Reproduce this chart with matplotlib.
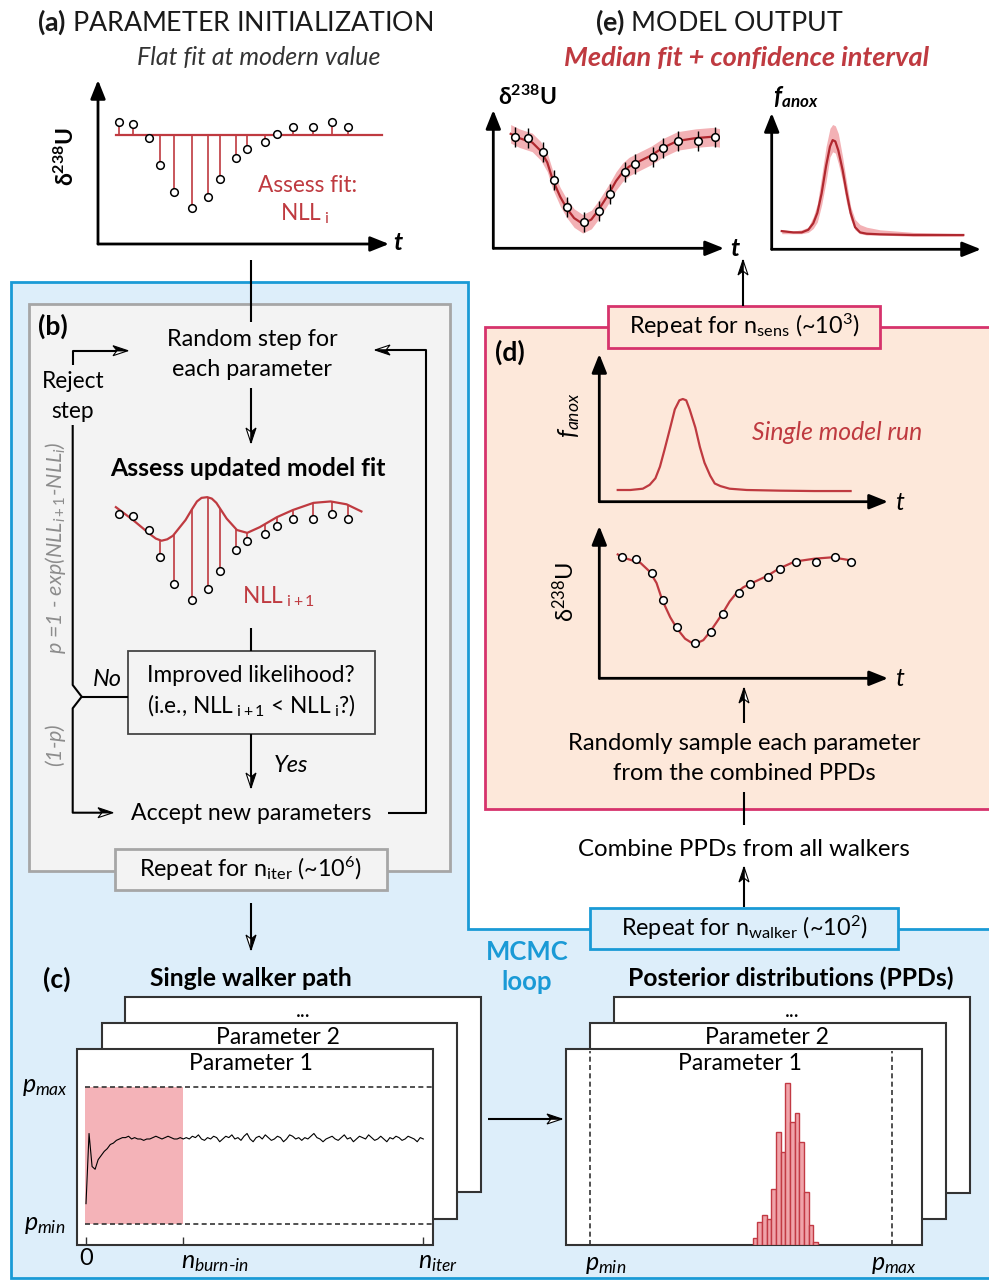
import numpy as np
import matplotlib.pyplot as plt
from matplotlib.patches import Rectangle, Polygon

plt.rcParams['font.family'] = ['Lato', 'DejaVu Sans']
plt.rcParams['mathtext.fontset'] = 'custom'
plt.rcParams['mathtext.rm'] = 'Lato'
plt.rcParams['mathtext.it'] = 'Lato:italic'
plt.rcParams['mathtext.bf'] = 'Lato:bold'
plt.rcParams['mathtext.bfit'] = 'Lato:italic:bold'

W, H = 989, 1281

# ---------------- data ----------------
# d238U observations (permil) against time
t_obs = [0, 0.6, 1.3, 1.8, 2.4, 3.2, 3.9, 4.4, 5.1, 5.6, 6.4, 6.9, 7.6, 8.5, 9.3, 10.0]
d238_obs = [-0.05, -0.06, -0.16, -0.35, -0.54, -0.65, -0.57, -0.45, -0.30, -0.24,
            -0.19, -0.13, -0.08, -0.08, -0.05, -0.08]
d238_err = [0.07, 0.07, 0.07, 0.07, 0.07, 0.07, 0.07, 0.07, 0.07, 0.07, 0.07, 0.07, 0.07, 0.07, 0.07]

# (a) flat initial fit at the modern value
flat_t = [-0.15, 11.5]
flat_d = [-0.14, -0.14]

# (b) trial model after a random step
trial_t = [-0.15, 0.6, 1.35, 1.6, 1.85, 2.1, 2.35, 2.9, 3.2, 3.4, 3.6, 3.85, 4.05, 4.25,
           4.7, 5.15, 5.6, 6.15, 6.9, 7.6, 8.5, 9.25, 9.95, 10.6]
trial_d = [0.0, -0.09, -0.19, -0.22, -0.235, -0.225, -0.20, -0.09, -0.01, 0.04, 0.065,
           0.07, 0.06, 0.03, -0.08, -0.16, -0.18, -0.14, -0.07, -0.02, 0.03, 0.04, 0.02, -0.03]

# (d)/(e) model d238U curve
model_t = [-0.2, 0.2, 0.8, 1.2, 1.5, 1.75, 2.1, 2.4, 2.75, 3.15, 3.55, 3.85, 4.15,
           4.4, 4.7, 5.0, 5.3, 5.55, 5.95, 6.35, 6.85, 7.55, 8.4, 9.2, 9.95]
model_d = [-0.03, -0.06, -0.09, -0.15, -0.23, -0.35, -0.47, -0.55, -0.62, -0.66,
           -0.63, -0.57, -0.50, -0.44, -0.36, -0.30, -0.26, -0.24, -0.21, -0.18,
           -0.13, -0.08, -0.06, -0.05, -0.07]
ci_half = 0.065

# (d) single model run of f_anox
run_t = [-0.2, 0.35, 0.9, 1.2, 1.45, 1.65, 1.85, 2.1, 2.3, 2.5, 2.65, 2.8, 2.95,
         3.2, 3.4, 3.6, 3.85, 4.05, 4.3, 4.7, 5.45, 6.9, 8.4, 10.0]
run_f = [0.09, 0.09, 0.10, 0.13, 0.18, 0.27, 0.40, 0.57, 0.71, 0.78, 0.79, 0.78,
         0.71, 0.57, 0.42, 0.30, 0.20, 0.14, 0.12, 0.10, 0.09, 0.085, 0.082, 0.082]

# (e) median f_anox and confidence interval
med_t = [-0.2, 0.45, 0.92, 1.29, 1.57, 1.8, 2.04, 2.29, 2.51, 2.66, 2.81, 2.98,
         3.22, 3.45, 3.67, 3.92, 4.2, 4.57, 5.32, 7.19, 10.0]
med_f = [0.14, 0.13, 0.13, 0.15, 0.20, 0.28, 0.43, 0.64, 0.79, 0.84, 0.83, 0.76,
         0.61, 0.43, 0.28, 0.17, 0.13, 0.12, 0.115, 0.11, 0.11]
med_hi = [0.15, 0.14, 0.15, 0.17, 0.25, 0.35, 0.56, 0.79, 0.93, 0.96, 0.95, 0.89,
          0.71, 0.51, 0.33, 0.23, 0.19, 0.17, 0.15, 0.13, 0.12]
med_lo = [0.12, 0.12, 0.12, 0.13, 0.16, 0.21, 0.34, 0.52, 0.71, 0.75, 0.74, 0.66,
          0.52, 0.35, 0.23, 0.15, 0.12, 0.11, 0.11, 0.10, 0.10]

# (c) single walker path, scaled between p_min (0) and p_max (1)
trace = [0.15, 0.66, 0.42, 0.40, 0.47, 0.50, 0.53, 0.55, 0.58, 0.59,
         0.61, 0.62, 0.63, 0.63, 0.64, 0.62, 0.63, 0.62, 0.62, 0.61,
         0.62, 0.62, 0.63, 0.64, 0.63, 0.62, 0.63, 0.64, 0.63, 0.62,
         0.62, 0.63, 0.62, 0.63, 0.62, 0.64, 0.63, 0.65, 0.62, 0.61,
         0.63, 0.62, 0.64, 0.63, 0.60, 0.62, 0.64, 0.63, 0.65, 0.62,
         0.63, 0.61, 0.64, 0.66, 0.62, 0.60, 0.63, 0.64, 0.62, 0.65,
         0.63, 0.61, 0.62, 0.64, 0.63, 0.60, 0.62, 0.65, 0.64, 0.62,
         0.63, 0.61, 0.63, 0.62, 0.64, 0.66, 0.63, 0.62, 0.60, 0.62,
         0.63, 0.64, 0.62, 0.61, 0.63, 0.65, 0.62, 0.63, 0.60, 0.62,
         0.64, 0.63, 0.62, 0.65, 0.63, 0.61, 0.62, 0.64, 0.62, 0.60,
         0.63, 0.62, 0.64, 0.63, 0.61, 0.62, 0.64, 0.63, 0.62, 0.60,
         0.63, 0.62]
n_burn = 32

# posterior histogram (parameter scaled 0..1)
hist_left = 0.539
hist_width = 0.0155
hist_counts = [2, 7, 9, 8, 17, 34, 28, 49, 37, 40, 31, 16, 6, 1]

RED = '#bf3a40'
DRED = '#b0282f'
BAND = '#f3b1b5'
BLUE = '#1a9ad6'
LBLUE = '#ddeefa'
PINK = '#d6336c'
SALMON = '#fde8da'
GREY = '#a6a6a6'
LGREY = '#f3f3f3'

REG = 16.3     # regular flow text
BOLD = 17.8    # bold headings
TITLE = 19.3

fig = plt.figure(figsize=(W / 100, H / 100), dpi=100)
ax = fig.add_axes([0, 0, 1, 1])
ax.set_xlim(0, W)
ax.set_ylim(H, 0)
ax.axis('off')


def inset(box, xref, yref):
    l, t, r, b = box
    x0v, x0p, x1v, x1p = xref
    y0v, y0p, y1v, y1p = yref
    sx = (x1v - x0v) / (x1p - x0p)
    sy = (y1v - y0v) / (y1p - y0p)
    a = fig.add_axes([l / W, 1 - b / H, (r - l) / W, (b - t) / H])
    a.set_xlim(x0v + (l - x0p) * sx, x0v + (r - x0p) * sx)
    a.set_ylim(y0v + (b - y0p) * sy, y0v + (t - y0p) * sy)
    a.axis('off')
    return a


def txt(x, y, s, size=REG, **kw):
    kw.setdefault('ha', 'center')
    kw.setdefault('va', 'center')
    ax.text(x, y, s, fontsize=size, **kw)


def head(x, y, dx, dy, L=15, w=5, notch=4):
    # half black / half white arrow head
    nx, ny = dy, -dx
    bx, by = x - L * dx, y - L * dy
    mx, my = x - (L - notch) * dx, y - (L - notch) * dy
    ax.add_patch(Polygon([(x, y), (mx, my), (bx - w * nx, by - w * ny)], closed=True,
                         fc='white', ec='black', lw=0.8, zorder=6))
    ax.add_patch(Polygon([(x, y), (bx + w * nx, by + w * ny), (mx, my)], closed=True,
                         fc='black', ec='black', lw=0.8, zorder=6))


def line(xs, ys, lw=1.5):
    ax.plot(xs, ys, color='black', lw=lw, zorder=5, solid_capstyle='butt')


def arrow(x0, y0, x1, y1):
    line([x0, x1], [y0, y1])
    d = np.hypot(x1 - x0, y1 - y0)
    head(x1, y1, (x1 - x0) / d, (y1 - y0) / d)


def axes_arrows(ox, oy, ytip, xtip):
    for tip in [(ox, ytip), (xtip, oy)]:
        ax.annotate('', xy=tip, xytext=(ox, oy),
                    arrowprops=dict(arrowstyle='-|>,head_length=0.75,head_width=0.3',
                                    lw=2, color='black', mutation_scale=15,
                                    shrinkA=0, shrinkB=0), zorder=5)


# ---------------- background boxes ----------------
ax.add_patch(Polygon([(11, 282), (468, 282), (468, 929), (1000, 929), (1000, 1278), (11, 1278)],
                     closed=True, fc=LBLUE, ec=BLUE, lw=2, zorder=0))
ax.add_patch(Rectangle((485, 327), 600, 482, fc=SALMON, ec=PINK, lw=2, zorder=1))
ax.add_patch(Rectangle((28.5, 303.5), 421.5, 567, fc=LGREY, ec=GREY, lw=2, zorder=1))
ax.add_patch(Rectangle((115, 849), 271.7, 41, fc=LGREY, ec=GREY, lw=2, zorder=3))
ax.add_patch(Rectangle((127.7, 650.7), 247.3, 83.6, fc=LGREY, ec='#444444', lw=1.3, zorder=3))
ax.add_patch(Rectangle((607.7, 306), 272.3, 41.7, fc=SALMON, ec=PINK, lw=2, zorder=3))
ax.add_patch(Rectangle((590, 908.3), 308.3, 40.7, fc=LBLUE, ec=BLUE, lw=2, zorder=3))

# cards
for l, t, r, b in [(125.3, 996.7, 481, 1192.3), (101.7, 1023.3, 457.3, 1218.7), (77.3, 1049, 433.3, 1245),
                   (614.3, 996.7, 970, 1192.7), (590, 1023.3, 946, 1219), (566, 1049.3, 921.7, 1245)]:
    ax.add_patch(Rectangle((l, t), r - l, b - t, fc='white', ec='#333333', lw=1.5, zorder=2))

# ---------------- (a) ----------------
txt(235, 22, r'$\mathbf{(a)}$ PARAMETER INITIALIZATION', size=TITLE, color='#1a1a1a')
txt(259, 58, 'Flat fit at modern value', size=18, style='italic', color='#333333')
txt(66, 157, r'δ$^{\mathbf{238}}$U', size=16.5, fontweight='bold', rotation=90)
txt(308, 186, 'Assess fit:', color=RED)
txt(305, 214, r'NLL$_{\ \rm i}$', color=RED)
txt(398, 243, 't', size=18, fontweight='bold', style='italic')
axes_arrows(98, 244, 80, 389)
a_a = inset((98, 82, 388, 244), (0, 119.3, 10, 347.7), (-0.05, 122.3, -0.65, 208.0))
a_a.plot(flat_t, flat_d, color=RED, lw=1.6)
a_a.vlines(t_obs, flat_d[0], d238_obs, color=RED, lw=1.2)
a_a.plot(t_obs, d238_obs, 'o', mfc='white', mec='black', ms=5.5, mew=1.1)

# ---------------- (b) ----------------
txt(53, 326, '(b)', size=19, fontweight='bold')
line([251, 251], [260, 322])
txt(252, 339, 'Random step for', size=16.8)
txt(252, 369, 'each parameter', size=16.8)
arrow(251, 388, 251, 443)
txt(248, 468, 'Assess updated model fit', size=BOLD, fontweight='bold')
a_b = inset((100, 480, 380, 620), (0, 119.3, 10, 347.7), (-0.05, 514.3, -0.65, 600.0))
a_b.plot(trial_t, trial_d, color=RED, lw=1.6)
a_b.vlines(t_obs, np.interp(t_obs, trial_t, trial_d), d238_obs, color=RED, lw=1.2)
a_b.plot(t_obs, d238_obs, 'o', mfc='white', mec='black', ms=5.5, mew=1.1)
txt(278, 597, r'NLL$_{\ \rm i+1}$', color=RED)
line([251, 251], [628, 651])
txt(251, 675, 'Improved likelihood?')
txt(251, 706, r'(i.e., NLL$_{\ \rm i+1}\ $< NLL$_{\ \rm i}$?)')
arrow(251, 734, 251, 788)
txt(291, 766, 'Yes', size=17, style='italic')
txt(251, 813, 'Accept new parameters', size=16.6)
# accept loop (right)
line([388, 426, 426, 380], [813, 813, 350, 350])
head(375, 350, -1, 0)
# reject loop (left)
line([72.7, 72.7, 123], [365, 350.7, 350.7])
head(128, 350.7, 1, 0)
txt(73, 382, 'Reject')
txt(73, 412, 'step')
line([72.7, 72.7, 81.7, 72.7, 72.7, 108], [425, 685, 696.7, 708.3, 812.7, 812.7])
head(113, 812.7, 1, 0)
line([81.7, 127.7], [696.7, 696.7])
txt(107, 680, 'No', size=17, style='italic')
txt(56, 548, r'$p$ =1 - exp(NLL$_{i+1}$-NLL$_{i}$)', size=15.5, color='#8c8c8c',
    style='italic', rotation=90)
txt(56, 745, r'(1-$p$)', size=15.5, color='#8c8c8c', style='italic', rotation=90)
txt(251, 869, r'Repeat for n$_{\rm iter}$ (~10$^{6}$)', size=16.8)
arrow(251, 903, 251, 950)

# ---------------- (c) ----------------
txt(57, 979, '(c)', size=19, fontweight='bold')
txt(251, 978, 'Single walker path', size=BOLD, fontweight='bold')
txt(303, 1011, '...', size=15)
txt(277.5, 1037, 'Parameter 2', size=16.5)
txt(251, 1064, 'Parameter 1', size=16.5)
txt(45, 1087, r'$p_{max}$', size=18)
txt(45, 1225, r'$p_{min}$', size=18)
n_iter = len(trace) - 1
a_c = inset((85, 1049, 433.3, 1245), (0, 86, n_iter, 423.3), (0, 1224.3, 1, 1086.7))
x_left = a_c.get_xlim()[0]
a_c.fill_between([x_left, n_burn], 0, 1, color='#f4b3b8', lw=0)
a_c.axhline(0, color='#333333', lw=1.2, ls=(0, (3, 2)))
a_c.axhline(1, color='#333333', lw=1.2, ls=(0, (3, 2)))
a_c.plot(range(len(trace)), trace, color='black', lw=0.8)
a_c.vlines([0, n_burn, n_iter], 0, 0.04, transform=a_c.get_xaxis_transform(), color='#333333', lw=1)
a_c.text(0, -0.07, '0', transform=a_c.get_xaxis_transform(), ha='center', va='center', fontsize=17,
         clip_on=False)
a_c.text(n_burn - 0.6, -0.09, r'$n_{burn\text{-}in}$', transform=a_c.get_xaxis_transform(), ha='left',
         va='center', fontsize=18, clip_on=False)
a_c.text(n_iter - 1.8, -0.09, r'$n_{iter}$', transform=a_c.get_xaxis_transform(), ha='left',
         va='center', fontsize=18, clip_on=False)
txt(134, 1198, 'DISCARD', size=14, color='#c8404a')

# ---------------- MCMC / PPDs ----------------
txt(527, 952, 'MCMC', size=18.5, fontweight='bold', color=BLUE)
txt(527, 982, 'loop', size=18.5, fontweight='bold', color=BLUE)
txt(744, 928, r'Repeat for n$_{\rm walker}$ (~10$^{2}$)', size=16.8)
txt(791, 978, 'Posterior distributions (PPDs)', size=BOLD, fontweight='bold')
arrow(488, 1119, 562, 1119)
txt(792, 1011, '...', size=15)
txt(767, 1037, 'Parameter 2', size=16.5)
txt(740, 1064, 'Parameter 1', size=16.5)
a_p = inset((566, 1049.3, 921.7, 1245), (0, 590, 1, 891.7), (0, 1245, 49, 1082.7))
a_p.bar(hist_left + hist_width * np.arange(len(hist_counts)), hist_counts, width=hist_width,
        align='edge', fc='#f0a3a9', ec='#c23a44', lw=1)
a_p.axvline(0, color='#333333', lw=1.2, ls=(0, (3, 2)), ymax=0.99)
a_p.axvline(1, color='#333333', lw=1.2, ls=(0, (3, 2)), ymax=0.99)
txt(606, 1265, r'$p_{min}$', size=18)
txt(894, 1265, r'$p_{max}$', size=18)

# ---------------- (d) ----------------
arrow(744, 907, 744, 867)
txt(744, 849, 'Combine PPDs from all walkers', size=17.3)
line([744, 744], [792, 825])
txt(744, 744, 'Randomly sample each parameter', size=17.2)
txt(744, 773, 'from the combined PPDs', size=17.2)
arrow(744, 723, 744, 688)
txt(510, 352, '(d)', size=19, fontweight='bold')
txt(744, 326, r'Repeat for n$_{\rm sens}$ (~10$^{3}$)', size=16.8)
arrow(743, 306, 743, 260)
axes_arrows(599.3, 501.7, 354, 888)
axes_arrows(599.3, 678.3, 526, 888)
txt(900, 503, 't', size=18, style='italic')
txt(900, 678, 't', size=18, style='italic')
txt(569, 415, r'$f_{anox}$', size=18, rotation=90)
txt(565, 592, r'δ$^{238}$U', size=17, rotation=90)
txt(837, 433, 'Single model run', size=17.8, style='italic', color=RED)
a_d1 = inset((599.3, 355, 887.3, 501.7), (0, 622.3, 10, 850.6), (0, 501.7, 1, 371.7))
a_d1.plot(run_t, run_f, color=RED, lw=1.6)
a_d2 = inset((599.3, 526.7, 887.3, 678.3), (0, 622.3, 10, 850.6), (-0.05, 557.3, -0.65, 643.0))
a_d2.plot(model_t, model_d, color=RED, lw=1.6)
a_d2.plot(t_obs, d238_obs, 'o', mfc='white', mec='black', ms=5.5, mew=1.1)

# ---------------- (e) ----------------
txt(719, 22, r'$\mathbf{(e)}$ MODEL OUTPUT', size=TITLE, color='#1a1a1a')
txt(747, 58, 'Median fit + confidence interval', size=19.5, fontweight='bold', style='italic', color=RED)
txt(527, 97, r'δ$^{\mathbf{238}}$U', size=16.5, fontweight='bold')
txt(796, 97, r'$\mathbfit{f}_{\mathbfit{anox}}$', size=17.5)
txt(735, 248, 't', size=18, fontweight='bold', style='italic')
txt(993, 249, 't', size=18, fontweight='bold', style='italic')
axes_arrows(493.3, 248.3, 110, 724)
axes_arrows(771.7, 249.3, 113, 981)
n_e = len(d238_err)
a_e1 = inset((493.3, 100, 719, 248.3), (0, 515, 10, 730), (-0.05, 136.7, -0.65, 222.4))
a_e1.fill_between(model_t, np.array(model_d) - ci_half, np.array(model_d) + ci_half, color=BAND, lw=0)
a_e1.plot(model_t, model_d, color=DRED, lw=1.6)
a_e1.errorbar(t_obs[:n_e], d238_obs[:n_e], yerr=d238_err, fmt='o', mfc='white', mec='black',
              ecolor='black', elinewidth=1, ms=5.5, mew=1.1)
a_e2 = inset((771.7, 110, 980, 249.3), (0, 785.3, 10, 963.3), (0, 249.3, 1, 119.3))
a_e2.fill_between(med_t, med_lo, med_hi, color=BAND, lw=0)
a_e2.plot(med_t, med_f, color=DRED, lw=1.6)

fig.savefig('out.png', dpi=100)
